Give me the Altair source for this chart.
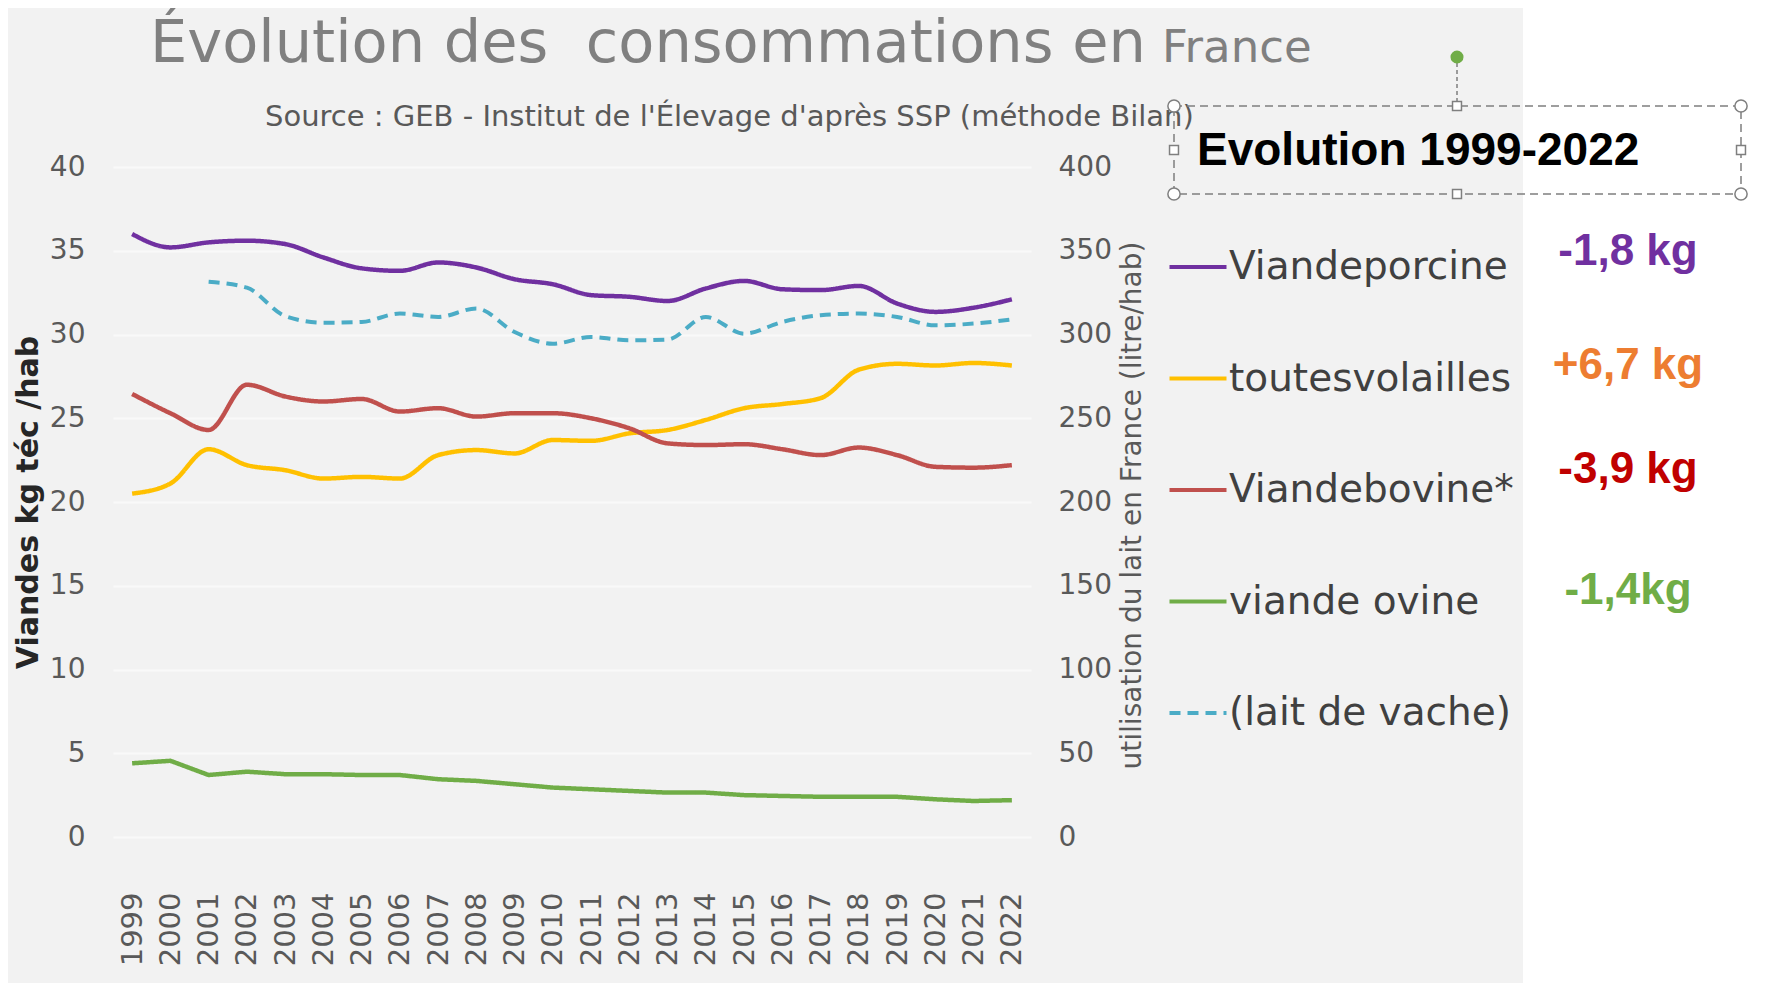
import altair as alt
import pandas as pd

# ---------------- data ----------------
YEARS = list(range(1999, 2023))
SERIES = ["Viandeporcine", "toutesvolailles", "Viandebovine*", "viande ovine", "(lait de vache)"]
COLORS = ["#7030a0", "#ffc000", "#c0504d", "#70ad47", "#4bacc6"]
DASHES = [[1, 0], [1, 0], [1, 0], [1, 0], [11, 7]]

PORC = [36.0, 35.2, 35.5, 35.6, 35.4, 34.6, 33.95, 33.8, 34.3, 34.0, 33.3, 33.0,
        32.35, 32.25, 32.0, 32.75, 33.2, 32.7, 32.65, 32.9, 31.85, 31.35, 31.6, 32.1]
VOLAILLES = [20.5, 21.1, 23.15, 22.2, 21.9, 21.4, 21.5, 21.4, 22.8, 23.1, 22.9, 23.7,
             23.65, 24.1, 24.3, 24.9, 25.6, 25.85, 26.2, 27.9, 28.25, 28.15, 28.3, 28.15]
BOVINE = [26.45, 25.3, 24.3, 27.0, 26.3, 26.0, 26.15, 25.4, 25.6, 25.1, 25.3, 25.3,
          25.0, 24.4, 23.5, 23.4, 23.45, 23.15, 22.8, 23.25, 22.8, 22.1, 22.05, 22.2]
OVINE = [4.4, 4.55, 3.7, 3.9, 3.75, 3.75, 3.7, 3.7, 3.45, 3.35, 3.15, 2.95,
         2.85, 2.75, 2.65, 2.65, 2.5, 2.45, 2.4, 2.4, 2.4, 2.25, 2.15, 2.2]
LAIT_YEARS = list(range(2001, 2023))
LAIT = [331.5, 328, 311, 307, 307.5, 312.5, 310.5, 315.5, 301.5, 294.5, 298.5,
        296.5, 297, 310.5, 300.5, 307.5, 311.5, 312.5, 310.5, 305.5, 306.5, 309]

Y_LEFT_TICKS = list(range(0, 41, 5))
Y_RIGHT_TICKS = list(range(0, 401, 50))

TITLE_MAIN = "Évolution des\u00a0 consommations en"
TITLE_TAIL = "France"
SUBTITLE = "Source : GEB - Institut de l'Élevage d'après SSP (méthode Bilan)"
Y_LEFT_TITLE = "Viandes kg téc /hab"
Y_RIGHT_TITLE = "utilisation du lait en France (litre/hab)"
BOX_TEXT = "Evolution 1999-2022"
CHANGES = ["-1,8 kg", "+6,7 kg", "-3,9 kg", "-1,4kg"]
CHANGE_COLORS = ["#7030a0", "#ed7d31", "#c00000", "#70ad47"]

# ---------------- table ----------------
rows = []
for name, vals in zip(SERIES[:4], [PORC, VOLAILLES, BOVINE, OVINE]):
    for yr, v in zip(YEARS, vals):
        rows.append({"annee": yr, "serie": name, "valeur": v})
for yr, v in zip(LAIT_YEARS, LAIT):
    rows.append({"annee": yr, "serie": SERIES[4], "valeur": v})
df = pd.DataFrame(rows)

FONT = "DejaVu Sans"
GRAY = "#595959"
W, H = 918, 670

legend = alt.Legend(
    title=None, orient="none", legendX=1054, legendY=69,
    labelFont=FONT, labelFontSize=39, labelColor="#404040",
    symbolType="stroke", symbolSize=3250, symbolStrokeWidth=4,
    rowPadding=60.5, labelOffset=0, labelLimit=0, padding=0,
)
color = alt.Color("serie:N", scale=alt.Scale(domain=SERIES, range=COLORS), legend=legend)
dash = alt.StrokeDash("serie:N", scale=alt.Scale(domain=SERIES, range=DASHES), legend=legend)

x_enc = alt.X(
    "annee:O",
    scale=alt.Scale(type="point", padding=0.5, domain=YEARS),
    axis=alt.Axis(title=None, labelAngle=-90, labelFont=FONT, labelFontSize=29,
                  labelColor=GRAY, labelPadding=55, ticks=False, domain=False,
                  grid=False, labelOverlap=False),
)

y_left = alt.Y(
    "valeur:Q",
    scale=alt.Scale(domain=[0, 40], nice=False),
    axis=alt.Axis(orient="left", values=Y_LEFT_TICKS, title=Y_LEFT_TITLE,
                  titleFont=FONT, titleFontWeight="bold", titleFontSize=30,
                  titleColor="#262626", titleAngle=-90, titleX=-85, titleY=H / 2,
                  titleAlign="center", titleBaseline="middle",
                  labelFont=FONT, labelFontSize=28, labelColor=GRAY, labelPadding=28,
                  ticks=False, domain=False, grid=True, gridColor="#f9f9f9", gridWidth=2),
)
y_right = alt.Y(
    "valeur:Q",
    scale=alt.Scale(domain=[0, 400], nice=False),
    axis=alt.Axis(orient="right", values=Y_RIGHT_TICKS, title=Y_RIGHT_TITLE,
                  titleFont=FONT, titleFontWeight="normal", titleFontSize=28,
                  titleColor=GRAY, titleAngle=-90, titleX=101, titleY=338,
                  titleAlign="center", titleBaseline="middle",
                  labelFont=FONT, labelFontSize=28, labelColor=GRAY, labelPadding=27,
                  ticks=False, domain=False, grid=False),
)

base = alt.Chart(df)
smooth = base.transform_filter(
    alt.FieldOneOfPredicate(field="serie", oneOf=SERIES[:3])
).mark_line(strokeWidth=4.5, interpolate="monotone").encode(
    x=x_enc, y=y_left, color=color, strokeDash=dash)
green = base.transform_filter(
    alt.FieldEqualPredicate(field="serie", equal=SERIES[3])
).mark_line(strokeWidth=4.5, interpolate="linear").encode(
    x=x_enc, y=y_left, color=color, strokeDash=dash)
meat = alt.layer(smooth, green)

dairy = base.transform_filter(
    alt.FieldEqualPredicate(field="serie", equal=SERIES[4])
).mark_line(strokeWidth=4, interpolate="monotone").encode(
    x=x_enc, y=y_right, color=color, strokeDash=dash)


def text_layer(txt, x, y, size, col, font=FONT, weight="normal", align="left", baseline="middle"):
    return alt.Chart(pd.DataFrame({"t": [txt]})).mark_text(
        align=align, baseline=baseline, font=font, fontSize=size,
        fontWeight=weight, color=col,
    ).encode(x=alt.value(x), y=alt.value(y), text="t:N")


one = pd.DataFrame({"k": [0]})
white_side = alt.Chart(one).mark_rect(color="#ffffff").encode(
    x=alt.value(1410), x2=alt.value(1650), y=alt.value(-170), y2=alt.value(830))

title1 = text_layer(TITLE_MAIN, 37, -105, 59, "#808080", baseline="alphabetic")
title2 = text_layer(TITLE_TAIL, 1049, -105, 45, "#808080", baseline="alphabetic")
subtitle = text_layer(SUBTITLE, 152, -50, 29, GRAY)

frame = alt.Chart(one).mark_rect(fillOpacity=0, stroke="#7f7f7f", strokeDash=[8, 5],
                                 strokeWidth=1.5).encode(
    x=alt.value(1061), x2=alt.value(1628), y=alt.value(-61), y2=alt.value(27))
stem = alt.Chart(one).mark_rule(color="#7f7f7f", strokeDash=[4, 3], strokeWidth=1.5).encode(
    x=alt.value(1344), y=alt.value(-104), y2=alt.value(-61))
dot = alt.Chart(one).mark_point(filled=True, color="#70ad47", size=170, opacity=1).encode(
    x=alt.value(1344), y=alt.value(-110))


def handle(x, y, shape, size):
    return alt.Chart(one).mark_point(shape=shape, size=size, filled=True, fill="#ffffff",
                                     stroke="#7f7f7f", strokeWidth=1.5, opacity=1).encode(
        x=alt.value(x), y=alt.value(y))


handles = [handle(x, y, "circle", 150) for x in (1061, 1628) for y in (-61, 27)]
handles += [handle(1344, -61, "square", 80), handle(1344, 27, "square", 80),
            handle(1061, -17, "square", 80), handle(1628, -17, "square", 80)]

box_text = text_layer(BOX_TEXT, 1084, -16, 46, "#000000", font="Liberation Sans", weight="bold")

ann_y = [85, 199, 303, 424]
anns = [text_layer(t, 1515, yy, 44, c, font="Liberation Sans", weight="bold", align="center")
        for t, c, yy in zip(CHANGES, CHANGE_COLORS, ann_y)]

chart = alt.layer(
    white_side, title1, title2, subtitle, meat, dairy, frame, stem, dot, *handles,
    box_text, *anns
).resolve_scale(y="independent").properties(
    width=W, height=H, background="#f2f2f2",
    padding={"left": 105, "top": 159, "right": 727, "bottom": 146},
    autosize=alt.AutoSizeParams(type="none"),
).configure_view(stroke=None)

chart.save("out.html", embed_options={"renderer": "svg", "actions": False})
